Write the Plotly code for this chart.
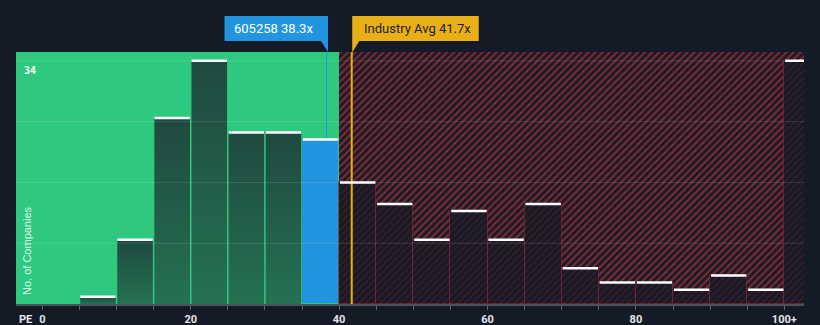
import plotly.graph_objects as go

# ---------------- data ----------------
bin_starts = [0, 5, 10, 15, 20, 25, 30, 35, 40, 45, 50, 55, 60, 65, 70, 75, 80, 85, 90, 95, 100]
counts = [0, 1, 9, 26, 34, 24, 24, 23, 17, 14, 9, 13, 9, 14, 5, 3, 3, 2, 4, 2, 34]
bin_width = 5
company_name = "605258"
company_pe = 38.3
industry_pe = 41.7
fair_limit = 40
x_tick_vals = [0, 20, 40, 60, 80, 100]
x_tick_text = ["0", "20", "40", "60", "80", "100+"]
y_grid_vals = [0, 8.5, 17, 25.5, 34]
y_top_label = "34"

# ---------------- layout constants ----------------
W, H = 820, 325
ML, MR, MT, MB = 16, 16, 52, 21
X_RANGE = [-3.545, 102.65]
Y_RANGE = [0, 35.24]
PW = W - ML - MR
PH = H - MT - MB

BG = "#151b26"
GREEN = "#2ec880"
GREEN_TOP = "#1f4940"
GREEN_BOTTOM = "#257152"
BLUE = "#2394e0"
YELLOW = "#e8af17"
RED_BAR = "rgba(21,25,36,0.74)"
GAP = 0.1


def px2x(px):
    return X_RANGE[0] + (px - ML) / PW * (X_RANGE[1] - X_RANGE[0])


def py2paper(py):
    return (H - MB - py) / PH


def x2px(x):
    return ML + (x - X_RANGE[0]) / (X_RANGE[1] - X_RANGE[0]) * PW


fig = go.Figure()

# green (below-average) zone
fig.add_trace(go.Bar(
    x=[(X_RANGE[0] + fair_limit) / 2], y=[Y_RANGE[1]], width=[fair_limit - X_RANGE[0]],
    marker=dict(color=GREEN, line=dict(width=0)), hoverinfo="skip", showlegend=False))

# red hatched zone
fig.add_trace(go.Bar(
    x=[(fair_limit + X_RANGE[1]) / 2], y=[Y_RANGE[1]], width=[X_RANGE[1] - fair_limit],
    marker=dict(color="#1c1c27", line=dict(width=0),
                pattern=dict(shape="/", fgcolor="#7e2c37", bgcolor="#1d1b26",
                             size=5, solidity=0.4, fillmode="replace")),
    hoverinfo="skip", showlegend=False))

# industry average line (below bars)
fig.add_trace(go.Scatter(
    x=[industry_pe, industry_pe], y=[0, Y_RANGE[1]], mode="lines",
    line=dict(color=YELLOW, width=2), hoverinfo="skip", showlegend=False))

# company line
fig.add_trace(go.Scatter(
    x=[company_pe, company_pe], y=[0, Y_RANGE[1]], mode="lines",
    line=dict(color=BLUE, width=1), hoverinfo="skip", showlegend=False))

# histogram bars
bx, by, bcol, blc = [], [], [], []
for s, c in zip(bin_starts, counts):
    if c <= 0:
        continue
    if s <= company_pe < s + bin_width:
        bx.append(s + bin_width / 2); by.append(c); bcol.append(BLUE); blc.append(GREEN)
    elif s + bin_width <= fair_limit:
        # gradient-filled bar (dark at top, lighter at base)
        x0, x1 = s + GAP, s + bin_width - GAP
        fig.add_trace(go.Scatter(
            x=[x0, x1, x1, x0, x0], y=[0, 0, c, c, 0], mode="lines", fill="toself",
            line=dict(width=0, color=GREEN_TOP),
            fillgradient=dict(type="vertical",
                              colorscale=[[0, GREEN_BOTTOM], [1, GREEN_TOP]]),
            hoverinfo="skip", showlegend=False))
    else:
        bx.append(s + bin_width / 2); by.append(c); bcol.append(RED_BAR)
        blc.append("rgba(150,40,55,0.55)")
fig.add_trace(go.Bar(
    x=bx, y=by, width=[bin_width] * len(bx),
    marker=dict(color=bcol, line=dict(color=blc, width=1)),
    hoverinfo="skip", showlegend=False))

# white caps on bars
cx, cy = [], []
for s, c in zip(bin_starts, counts):
    if c > 0:
        cx += [s + 0.12, s + bin_width - 0.12, None]
        cy += [c, c, None]
fig.add_trace(go.Scatter(x=cx, y=cy, mode="lines", line=dict(color="white", width=2.5),
                         hoverinfo="skip", showlegend=False))

shapes = []
# gridlines above traces
for g in y_grid_vals[1:]:
    shapes.append(dict(type="line", xref="paper", yref="y", x0=0, x1=1, y0=g, y1=g,
                       line=dict(color="rgba(255,255,255,0.12)", width=1), layer="above"))


def path(points):
    d = "M " + " L ".join(f"{px2x(a):.4f},{py2paper(b):.4f}" for a, b in points) + " Z"
    return d


cpx = x2px(company_pe)
ipx = x2px(industry_pe)
# label boxes with tails
shapes.append(dict(type="path", xref="x", yref="paper",
                   path=path([(cpx - 102, 16), (cpx + 1.5, 16), (cpx + 1.5, 52),
                              (cpx - 5.5, 41), (cpx - 102, 41)]),
                   fillcolor=BLUE, line=dict(width=0), layer="above"))
shapes.append(dict(type="path", xref="x", yref="paper",
                   path=path([(ipx + 0.5, 16), (ipx + 127, 16), (ipx + 127, 41),
                              (ipx + 7.5, 41), (ipx + 0.8, 52), (ipx + 0.5, 52)]),
                   fillcolor=YELLOW, line=dict(width=0), layer="above"))

annotations = [
    dict(text=f"{company_name} {company_pe}x", xref="x", yref="paper",
         x=px2x(cpx - 95), y=py2paper(28.5), xanchor="left", yanchor="middle",
         showarrow=False, font=dict(family="Roboto", size=13, color="white")),
    dict(text=f"Industry Avg {industry_pe}x", xref="x", yref="paper",
         x=px2x(ipx + 10.5), y=py2paper(28.5), xanchor="left", yanchor="middle",
         showarrow=False, font=dict(family="Roboto", size=13, color="#1e1e1e")),
    dict(text=y_top_label, xref="paper", yref="y", x=(22 - ML) / PW, y=y_grid_vals[-1],
         xanchor="left", yanchor="top", yshift=-2, showarrow=False,
         font=dict(family="DejaVu Sans Mono", size=10, color="white", weight="bold")),
    dict(text="No. of Companies", xref="paper", yref="paper", x=(27 - ML) / PW,
         y=py2paper(251), xanchor="center", yanchor="middle", textangle=-90,
         showarrow=False, font=dict(family="Liberation Sans", size=11,
                                    color="rgba(255,255,255,0.85)")),
    dict(text="PE", xref="paper", yref="paper", x=(17 - ML) / PW, y=py2paper(319),
         xanchor="left", yanchor="middle", showarrow=False,
         font=dict(family="Roboto", size=11, color="#e6e8eb", weight="bold")),
]

tickvals_all = bin_starts
ticktext_all = [x_tick_text[x_tick_vals.index(v)] if v in x_tick_vals else "" for v in bin_starts]

fig.update_layout(
    width=W, height=H, margin=dict(l=ML, r=MR, t=MT, b=MB, autoexpand=False),
    paper_bgcolor=BG, plot_bgcolor=BG, barmode="overlay", bargap=0,
    shapes=shapes, annotations=annotations,
    xaxis=dict(range=X_RANGE, tickvals=tickvals_all, ticktext=ticktext_all,
               ticks="outside", ticklen=4, tickcolor="#5b6270", tickwidth=1,
               showline=True, linecolor="#4a505c", linewidth=1.5,
               showgrid=False, zeroline=False, fixedrange=True, automargin=False,
               tickfont=dict(family="Roboto", size=11, color="#e6e8eb", weight="bold")),
    yaxis=dict(range=Y_RANGE, showticklabels=False, showgrid=False, zeroline=False,
               ticks="", fixedrange=True, automargin=False),
)

fig.write_html("out.html")
